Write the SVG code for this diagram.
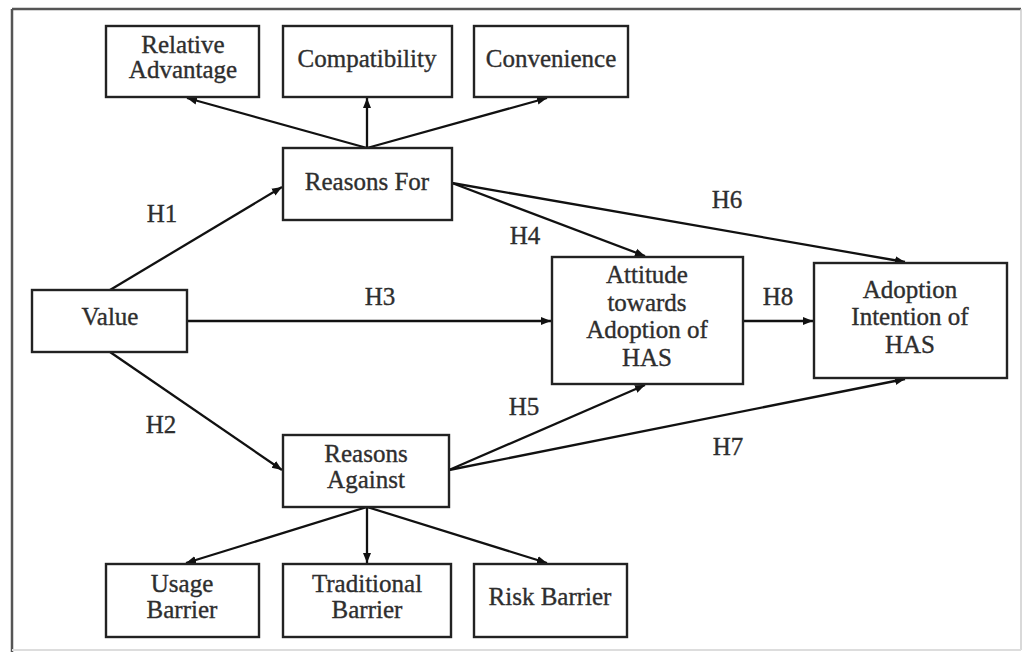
<svg xmlns="http://www.w3.org/2000/svg" width="1024" height="652" viewBox="0 0 1024 652">
<defs>
<marker id="arr" markerUnits="userSpaceOnUse" markerWidth="12" markerHeight="10" refX="10" refY="5" orient="auto">
<path d="M0,1 L10,5 L0,9 Z" fill="#111"/>
</marker>
<style>
.box{fill:#fff;stroke:#222;stroke-width:2.4}
.t{font-family:'Liberation Serif','Times New Roman',serif;font-size:25px;fill:#2e2e2e;stroke:#2e2e2e;stroke-width:0.35;text-anchor:middle}
.c{stroke:#111;stroke-width:2.3;fill:none;marker-end:url(#arr)}
</style>
</defs>
<rect x="0" y="0" width="1024" height="652" fill="#fff"/>
<line x1="12" y1="9" x2="1021" y2="9" stroke="#555" stroke-width="2.5"/>
<line x1="12" y1="9" x2="12" y2="652" stroke="#555" stroke-width="2.5"/>
<line x1="1021" y1="9" x2="1021" y2="650" stroke="#ccc" stroke-width="1.5"/>
<line x1="12" y1="650" x2="1021" y2="650" stroke="#ddd" stroke-width="2"/>

<g id="connectors">
<line class="c" x1="367" y1="148" x2="187" y2="98"/>
<line class="c" x1="367" y1="148" x2="367" y2="98"/>
<line class="c" x1="367" y1="148" x2="547" y2="98"/>
<line class="c" x1="110" y1="290" x2="282" y2="187"/>
<line class="c" x1="110" y1="352" x2="282" y2="470"/>
<line class="c" x1="187" y1="321" x2="551" y2="321"/>
<line class="c" x1="452" y1="183" x2="645" y2="256"/>
<line class="c" x1="452" y1="183" x2="905" y2="262"/>
<line class="c" x1="449" y1="470" x2="645" y2="385"/>
<line class="c" x1="449" y1="470" x2="905" y2="379"/>
<line class="c" x1="743" y1="321" x2="813" y2="321"/>
<line class="c" x1="367" y1="507" x2="186" y2="563"/>
<line class="c" x1="367" y1="507" x2="367" y2="563"/>
<line class="c" x1="367" y1="507" x2="547" y2="563"/>
<text class="t" x="162" y="222">H1</text>
<text class="t" x="161" y="433">H2</text>
<text class="t" x="380" y="305">H3</text>
<text class="t" x="525" y="244">H4</text>
<text class="t" x="524" y="415">H5</text>
<text class="t" x="727" y="208">H6</text>
<text class="t" x="728" y="455">H7</text>
<text class="t" x="778" y="305">H8</text>
</g>

<g id="relative-advantage">
<rect class="box" x="106" y="26" width="153" height="71"/>
<text class="t" x="183" y="53">Relative</text>
<text class="t" x="183" y="78">Advantage</text>
</g>
<g id="compatibility">
<rect class="box" x="283" y="26" width="169" height="71"/>
<text class="t" x="367" y="67">Compatibility</text>
</g>
<g id="convenience">
<rect class="box" x="474" y="26" width="154" height="71"/>
<text class="t" x="551" y="67">Convenience</text>
</g>
<g id="reasons-for">
<rect class="box" x="283" y="148" width="169" height="72"/>
<text class="t" x="367" y="190">Reasons For</text>
</g>
<g id="value">
<rect class="box" x="32" y="290" width="155" height="62"/>
<text class="t" x="110" y="325">Value</text>
</g>
<g id="attitude">
<rect class="box" x="552" y="257" width="191" height="127"/>
<text class="t" x="647" y="283">Attitude</text>
<text class="t" x="647" y="311">towards</text>
<text class="t" x="647" y="338">Adoption of</text>
<text class="t" x="647" y="366">HAS</text>
</g>
<g id="adoption-intention">
<rect class="box" x="814" y="263" width="193" height="115"/>
<text class="t" x="910" y="298">Adoption</text>
<text class="t" x="910" y="325">Intention of</text>
<text class="t" x="910" y="353">HAS</text>
</g>
<g id="reasons-against">
<rect class="box" x="283" y="435" width="166" height="72"/>
<text class="t" x="366" y="462">Reasons</text>
<text class="t" x="366" y="488">Against</text>
</g>
<g id="usage-barrier">
<rect class="box" x="106" y="564" width="153" height="73"/>
<text class="t" x="182" y="592">Usage</text>
<text class="t" x="182" y="618">Barrier</text>
</g>
<g id="traditional-barrier">
<rect class="box" x="283" y="564" width="168" height="73"/>
<text class="t" x="367" y="592">Traditional</text>
<text class="t" x="367" y="618">Barrier</text>
</g>
<g id="risk-barrier">
<rect class="box" x="474" y="564" width="153" height="73"/>
<text class="t" x="550" y="605">Risk Barrier</text>
</g>
</svg>
